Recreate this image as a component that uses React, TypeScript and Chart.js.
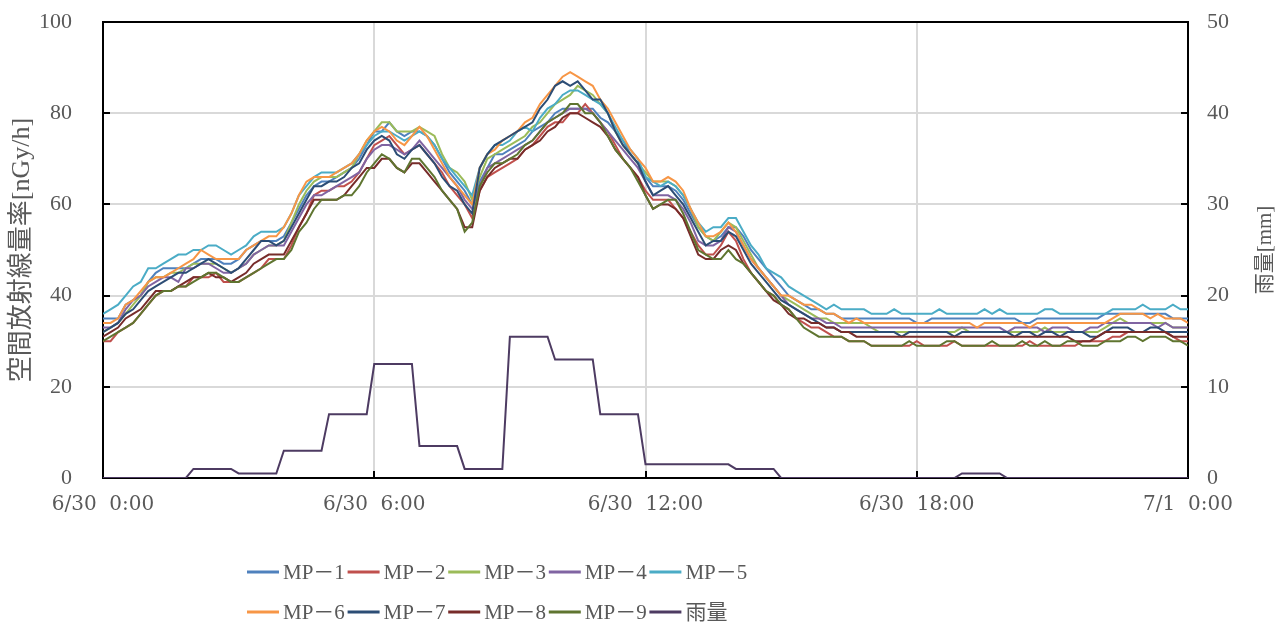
import React, { useEffect, useRef } from 'react';
import { Chart, registerables } from 'chart.js';

Chart.register(...registerables);

// 10-minute samples from 6/30 0:00 to 7/1 0:00 (minutes since midnight)
const sampleMinutes: number[] = Array.from({ length: 145 }, (_, i) => i * 10);
const xTickLabels = ['6/30  0:00', '6/30  6:00', '6/30  12:00', '6/30  18:00', '7/1  0:00'];

const seriesNames = ['MP－1', 'MP－2', 'MP－3', 'MP－4', 'MP－5', 'MP－6', 'MP－7', 'MP－8', 'MP－9', '雨量'];
const seriesColors = ['#4F81BD', '#C0504D', '#9BBB59', '#8064A2', '#4BACC6', '#F79646', '#2C4D75', '#772C2A', '#5F7530', '#4D3B62'];

// air dose rate [nGy/h]
const mp1 = [
  35, 35, 35, 38, 39, 40, 43, 45, 46, 46, 46, 46,
  47, 48, 48, 48, 47, 47, 48, 50, 51, 52, 52, 52,
  53, 56, 59, 62, 64, 65, 65, 66, 67, 68, 70, 73,
  76, 76, 78, 76, 75, 76, 76, 75, 73, 70, 67, 65,
  63, 60, 65, 68, 71, 71, 72, 73, 74, 76, 77, 78,
  80, 81, 81, 81, 81, 81, 79, 78, 76, 74, 71, 69,
  66, 64, 64, 64, 63, 61, 58, 55, 53, 52, 53, 55,
  55, 53, 50, 48, 46, 44, 42, 40, 39, 38, 37, 37,
  36, 36, 35, 35, 35, 35, 35, 35, 35, 35, 35, 35,
  34, 34, 35, 35, 35, 35, 35, 35, 35, 35, 35, 35,
  35, 35, 34, 34, 35, 35, 35, 35, 35, 35, 35, 35,
  35, 36, 36, 36, 36, 36, 36, 36, 36, 36, 35, 35,
  35,
];
const mp2 = [
  30, 30, 32, 33, 34, 36, 38, 40, 41, 41, 42, 42,
  44, 44, 44, 45, 43, 43, 43, 44, 45, 46, 48, 48,
  48, 51, 55, 58, 62, 63, 63, 64, 64, 65, 67, 70,
  73, 74, 75, 73, 71, 72, 73, 71, 69, 67, 64, 62,
  60, 57, 63, 66, 67, 68, 69, 70, 72, 73, 75, 77,
  78, 78, 80, 80, 82, 80, 78, 76, 73, 70, 68, 66,
  63, 61, 61, 61, 59, 57, 54, 51, 49, 49, 51, 54,
  52, 48, 45, 43, 41, 40, 38, 37, 35, 34, 33, 33,
  32, 31, 31, 30, 30, 30, 29, 29, 29, 29, 29, 29,
  30, 29, 29, 29, 29, 30, 29, 29, 29, 29, 29, 29,
  29, 29, 29, 30, 29, 29, 29, 29, 29, 29, 30, 30,
  30, 30, 31, 31, 32, 32, 32, 32, 32, 32, 31, 30,
  30,
];
const mp3 = [
  32, 33, 34, 36, 38, 40, 43, 44, 44, 45, 45, 46,
  47, 47, 47, 47, 46, 45, 46, 47, 49, 50, 51, 51,
  52, 56, 60, 63, 65, 66, 66, 66, 67, 68, 71, 74,
  76, 78, 78, 76, 76, 76, 77, 76, 75, 71, 68, 67,
  65, 61, 66, 70, 71, 72, 73, 74, 75, 77, 78, 80,
  82, 83, 84, 86, 85, 84, 82, 80, 76, 73, 71, 69,
  67, 65, 65, 65, 64, 62, 59, 55, 53, 52, 54, 56,
  55, 52, 49, 46, 44, 42, 40, 39, 38, 37, 36, 35,
  35, 34, 34, 34, 34, 34, 33, 32, 32, 32, 32, 32,
  32, 32, 32, 32, 32, 32, 33, 32, 32, 32, 32, 32,
  32, 32, 32, 32, 32, 33, 32, 32, 32, 32, 32, 32,
  32, 33, 34, 35, 34, 34, 34, 34, 34, 34, 33, 33,
  33,
];
const mp4 = [
  33, 33, 34, 37, 39, 40, 42, 43, 44, 44, 43, 46,
  46, 47, 47, 46, 45, 45, 46, 47, 49, 50, 51, 51,
  51, 54, 57, 60, 62, 62, 63, 64, 65, 66, 67, 70,
  72, 73, 73, 72, 71, 72, 74, 72, 70, 68, 66, 64,
  61, 59, 64, 68, 69, 70, 71, 72, 73, 74, 76, 78,
  79, 80, 81, 81, 81, 80, 78, 76, 74, 72, 70, 68,
  65, 62, 62, 62, 61, 59, 56, 52, 51, 51, 52, 55,
  54, 51, 48, 46, 44, 42, 40, 38, 37, 36, 35, 35,
  34, 34, 33, 33, 33, 33, 33, 33, 33, 33, 33, 33,
  33, 33, 33, 33, 33, 33, 33, 33, 33, 33, 33, 33,
  32, 33, 33, 33, 33, 32, 33, 33, 33, 32, 32, 33,
  33, 34, 34, 34, 34, 34, 34, 34, 33, 34, 33, 33,
  33,
];
const mp5 = [
  36, 37, 38, 40, 42, 43, 46, 46, 47, 48, 49, 49,
  50, 50, 51, 51, 50, 49, 50, 51, 53, 54, 54, 54,
  55, 58, 62, 64, 66, 67, 67, 67, 68, 69, 71, 73,
  75, 76, 76, 75, 74, 75, 76, 75, 73, 70, 68, 66,
  64, 62, 68, 71, 73, 73, 74, 76, 77, 76, 79, 81,
  82, 84, 85, 85, 84, 83, 82, 80, 77, 74, 72, 70,
  66, 65, 64, 65, 64, 62, 59, 56, 54, 55, 55, 57,
  57, 54, 51, 49, 46, 45, 44, 42, 41, 40, 39, 38,
  37, 38, 37, 37, 37, 37, 36, 36, 36, 37, 36, 36,
  36, 36, 36, 37, 36, 36, 36, 36, 36, 37, 36, 37,
  36, 36, 36, 36, 36, 37, 37, 36, 36, 36, 36, 36,
  36, 36, 37, 37, 37, 37, 38, 37, 37, 37, 38, 37,
  37,
];
const mp6 = [
  34, 34, 35, 38, 39, 41, 43, 44, 44, 45, 46, 47,
  48, 50, 49, 48, 48, 48, 48, 50, 51, 52, 53, 53,
  55, 58, 62, 65, 66, 66, 66, 67, 68, 69, 71, 74,
  76, 77, 76, 74, 73, 75, 77, 75, 72, 69, 66, 64,
  62, 60, 68, 71, 72, 74, 75, 76, 78, 79, 82, 84,
  86, 88, 89, 88, 87, 86, 83, 81, 78, 75, 72, 70,
  68, 65, 65, 66, 65, 63, 59, 56, 53, 53, 54, 56,
  54, 51, 48, 46, 44, 42, 40, 40, 39, 38, 38, 37,
  36, 36, 35, 34, 35, 34, 34, 34, 34, 34, 34, 34,
  34, 34, 34, 34, 34, 34, 34, 34, 33, 34, 34, 34,
  34, 34, 34, 33, 34, 34, 34, 34, 34, 34, 34, 34,
  34, 34, 35, 36, 36, 36, 36, 35, 36, 35, 35, 35,
  34,
];
const mp7 = [
  32, 33, 34, 36, 37, 39, 41, 42, 43, 44, 45, 45,
  46, 47, 48, 47, 46, 45, 46, 48, 50, 52, 52, 51,
  52, 55, 58, 61, 64, 64, 65, 65, 66, 68, 69, 72,
  74, 75, 74, 71, 70, 72, 73, 71, 69, 66, 64, 63,
  60, 58, 68, 71, 73, 74, 75, 76, 77, 78, 81, 83,
  86, 87, 86, 87, 85, 83, 83, 80, 76, 73, 71, 69,
  65, 62, 63, 64, 62, 60, 57, 54, 51, 52, 52, 54,
  53, 50, 47, 45, 43, 41, 39, 38, 37, 36, 35, 34,
  33, 33, 32, 32, 32, 32, 32, 32, 32, 32, 31, 32,
  32, 32, 32, 32, 32, 31, 32, 32, 32, 32, 32, 32,
  32, 31, 32, 32, 31, 32, 32, 31, 32, 32, 32, 31,
  31, 32, 33, 33, 33, 32, 32, 33, 33, 32, 32, 32,
  32,
];
const mp8 = [
  31, 32, 33, 35, 36, 37, 39, 41, 41, 41, 42, 43,
  44, 44, 45, 44, 44, 43, 44, 45, 47, 48, 49, 49,
  49, 52, 55, 58, 61, 61, 61, 61, 62, 64, 66, 68,
  68, 70, 70, 68, 67, 69, 69, 67, 65, 63, 61, 59,
  55, 55, 63, 66, 68, 69, 70, 70, 72, 73, 74, 76,
  77, 79, 80, 80, 79, 78, 77, 75, 72, 70, 68, 66,
  62, 59, 60, 60, 59, 57, 53, 49, 48, 48, 50, 51,
  50, 47, 45, 43, 41, 39, 38, 36, 35, 35, 34, 34,
  33, 33, 32, 32, 31, 31, 31, 31, 31, 31, 31, 31,
  31, 31, 31, 31, 31, 31, 31, 31, 31, 31, 31, 31,
  31, 31, 31, 31, 31, 31, 31, 31, 31, 30, 30, 30,
  31, 32, 32, 32, 32, 32, 32, 32, 32, 32, 31, 31,
  31,
];
const mp9 = [
  30, 31, 32, 33, 34, 36, 38, 40, 41, 41, 42, 42,
  43, 44, 45, 45, 44, 43, 43, 44, 45, 46, 47, 48,
  48, 50, 54, 56, 59, 61, 61, 61, 62, 62, 64, 67,
  69, 71, 70, 68, 67, 70, 70, 68, 66, 63, 61, 59,
  54, 56, 64, 67, 69, 69, 70, 71, 73, 74, 76, 78,
  79, 80, 82, 82, 80, 80, 78, 75, 72, 70, 68, 65,
  62, 59, 60, 61, 61, 58, 54, 50, 49, 48, 48, 50,
  48, 47, 45, 43, 41, 40, 38, 37, 35, 33, 32, 31,
  31, 31, 31, 30, 30, 30, 29, 29, 29, 29, 29, 30,
  29, 29, 29, 29, 30, 30, 29, 29, 29, 29, 30, 29,
  29, 29, 30, 29, 29, 30, 29, 29, 30, 30, 29, 29,
  29, 30, 30, 30, 31, 31, 30, 31, 31, 31, 30, 30,
  29,
];
// rainfall [mm]
const rain = [
  0, 0, 0, 0, 0, 0, 0, 0, 0, 0, 0, 0,
  1, 1, 1, 1, 1, 1, 0.5, 0.5, 0.5, 0.5, 0.5, 0.5,
  3, 3, 3, 3, 3, 3, 7, 7, 7, 7, 7, 7,
  12.5, 12.5, 12.5, 12.5, 12.5, 12.5, 3.5, 3.5, 3.5, 3.5, 3.5, 3.5,
  1, 1, 1, 1, 1, 1, 15.5, 15.5, 15.5, 15.5, 15.5, 15.5,
  13, 13, 13, 13, 13, 13, 7, 7, 7, 7, 7, 7,
  1.5, 1.5, 1.5, 1.5, 1.5, 1.5, 1.5, 1.5, 1.5, 1.5, 1.5, 1.5,
  1, 1, 1, 1, 1, 1, 0, 0, 0, 0, 0, 0,
  0, 0, 0, 0, 0, 0, 0, 0, 0, 0, 0, 0,
  0, 0, 0, 0, 0, 0, 0.5, 0.5, 0.5, 0.5, 0.5, 0.5,
  0, 0, 0, 0, 0, 0, 0, 0, 0, 0, 0, 0,
  0, 0, 0, 0, 0, 0, 0, 0, 0, 0, 0, 0,
  0,
];

const seriesValues = [mp1, mp2, mp3, mp4, mp5, mp6, mp7, mp8, mp9, rain];

const TEXT = '#595959';
const GRID = '#d9d9d9';
const SERIF = "'Liberation Serif', 'Noto Sans CJK JP', serif";
const SERIF_X = "'DejaVu Serif', 'Noto Sans CJK JP', serif";

// black frame round the plot area plus short inward tick marks
const framePlugin = {
  id: 'plotFrame',
  beforeDatasetsDraw(chart: any) {
    const { ctx, chartArea: a, scales } = chart;
    ctx.save();
    ctx.strokeStyle = '#000';
    ctx.lineWidth = 2;
    ctx.beginPath();
    scales.y.ticks.forEach((t: any) => {
      const y = Math.round(scales.y.getPixelForValue(t.value));
      ctx.moveTo(a.left, y);
      ctx.lineTo(a.left + 7, y);
    });
    scales.y1.ticks.forEach((t: any) => {
      const y = Math.round(scales.y1.getPixelForValue(t.value));
      ctx.moveTo(a.right, y);
      ctx.lineTo(a.right - 7, y);
    });
    scales.x.ticks.forEach((t: any) => {
      const x = Math.round(scales.x.getPixelForValue(t.value));
      ctx.moveTo(x, a.bottom);
      ctx.lineTo(x, a.bottom - 7);
    });
    ctx.stroke();
    ctx.strokeRect(a.left, a.top, a.right - a.left, a.bottom - a.top);
    ctx.restore();
  },
};

// two-row legend with fixed columns, and the rainfall axis title
const legendPlugin = {
  id: 'gridLegend',
  afterDraw(chart: any) {
    const { ctx, chartArea: a } = chart;
    ctx.save();
    ctx.font = `21px ${SERIF}`;
    ctx.textBaseline = 'middle';
    ctx.textAlign = 'left';
    chart.data.datasets.forEach((ds: any, k: number) => {
      const col = k % 5;
      const row = Math.floor(k / 5);
      const x0 = 247 + col * 100.6;
      const y = 572 + row * 40;
      ctx.strokeStyle = ds.borderColor;
      ctx.lineWidth = 3;
      ctx.beginPath();
      ctx.moveTo(x0, y);
      ctx.lineTo(x0 + 32, y);
      ctx.stroke();
      ctx.fillStyle = TEXT;
      ctx.fillText(ds.label, x0 + 36, y + 1);
    });

    ctx.translate(a.right + 77, (a.top + a.bottom) / 2);
    ctx.rotate(-Math.PI / 2);
    ctx.font = `21px ${SERIF}`;
    ctx.textAlign = 'center';
    ctx.fillStyle = TEXT;
    ctx.fillText('雨量[mm]', 0, 0);
    ctx.restore();
  },
};

// keep the tick-label padding from pushing the plot area down
const trimVerticalPadding = (s: any) => {
  s.paddingTop = 12;
  s.paddingBottom = 12;
};

export default function App() {
  const canvasRef = useRef<HTMLCanvasElement>(null);

  useEffect(() => {
    const canvas = canvasRef.current;
    if (!canvas) return;

    const datasets = seriesValues.map((values, k) => ({
      label: seriesNames[k],
      data: values,
      borderColor: seriesColors[k],
      backgroundColor: seriesColors[k],
      borderWidth: 2,
      pointRadius: 0,
      tension: 0,
      fill: false,
      yAxisID: k === 9 ? 'y1' : 'y',
      order: 10 - k,
    }));

    const chart = new Chart(canvas, {
      type: 'line',
      data: { labels: sampleMinutes, datasets },
      options: {
        responsive: false,
        maintainAspectRatio: false,
        animation: false,
        devicePixelRatio: 1,
        layout: { padding: { top: 22, left: 0, right: 0, bottom: 0 } },
        plugins: {
          legend: { display: false },
          tooltip: { enabled: false },
        },
        scales: {
          x: {
            type: 'linear',
            min: 0,
            max: 1440,
            ticks: {
              stepSize: 360,
              autoSkip: false,
              maxRotation: 0,
              color: TEXT,
              padding: 15,
              font: { family: SERIF_X, size: 20 },
              callback: (v: any) => xTickLabels[Math.round(Number(v) / 360)] ?? '',
            },
            grid: { color: GRID, lineWidth: 2, drawTicks: false },
            border: { display: false },
            afterFit: (s: any) => {
              s.height = 148;
            },
          },
          y: {
            position: 'left',
            min: 0,
            max: 100,
            ticks: {
              stepSize: 20,
              color: TEXT,
              padding: 31,
              font: { family: SERIF, size: 22 },
            },
            grid: { color: GRID, lineWidth: 2, drawTicks: false },
            border: { display: false },
            title: {
              display: true,
              text: '空間放射線量率[nGy/h]',
              color: TEXT,
              font: { family: SERIF, size: 26 },
              padding: { top: 7, bottom: 0 },
            },
            afterFit: (s: any) => {
              s.width = 103;
              trimVerticalPadding(s);
            },
          },
          y1: {
            position: 'right',
            min: 0,
            max: 50,
            ticks: {
              stepSize: 10,
              color: TEXT,
              padding: 19,
              font: { family: SERIF, size: 22 },
            },
            grid: { drawOnChartArea: false, drawTicks: false },
            border: { display: false },
            afterFit: (s: any) => {
              s.width = 91;
              trimVerticalPadding(s);
            },
          },
        },
      } as any,
      plugins: [framePlugin, legendPlugin],
    });

    return () => chart.destroy();
  }, []);

  return (
    <div style={{ position: 'fixed', left: 0, top: 0, width: 1279, height: 626, background: '#ffffff' }}>
      <canvas ref={canvasRef} width={1279} height={626} style={{ display: 'block', width: 1279, height: 626 }} />
    </div>
  );
}
